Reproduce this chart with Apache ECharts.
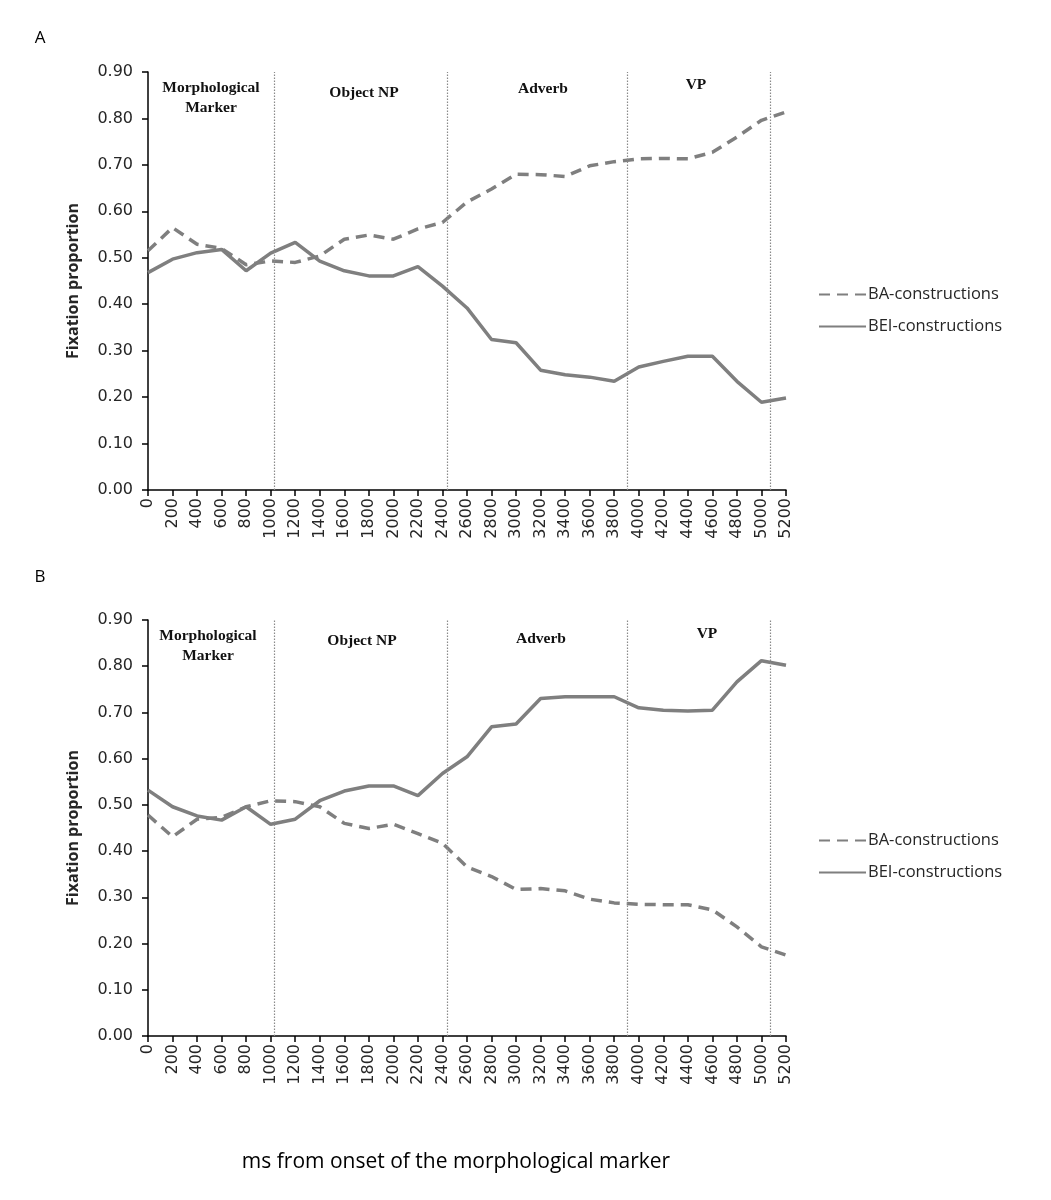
<!DOCTYPE html>
<html>
<head>
<meta charset="utf-8">
<script src="https://cdn.jsdelivr.net/npm/echarts@6/dist/echarts.min.js"></script>
<style>html,body{margin:0;padding:0;background:#fff}#c{width:1051px;height:1200px}</style>
</head>
<body>
<div id="c"></div>
<script>
const times = [0,200,400,600,800,1000,1200,1400,1600,1800,2000,2200,2400,2600,2800,3000,3200,3400,3600,3800,4000,4200,4400,4600,4800,5000,5200];
const baA  = [0.515,0.565,0.529,0.52,0.485,0.493,0.490,0.504,0.540,0.549,0.540,0.562,0.576,0.620,0.648,0.680,0.679,0.675,0.698,0.707,0.713,0.714,0.713,0.727,0.760,0.796,0.814];
const beiA = [0.468,0.497,0.511,0.518,0.472,0.510,0.533,0.493,0.472,0.461,0.461,0.481,0.439,0.392,0.324,0.317,0.258,0.248,0.243,0.234,0.265,0.277,0.288,0.288,0.234,0.189,0.198];
const baB  = [0.478,0.431,0.469,0.473,0.496,0.509,0.507,0.496,0.460,0.449,0.458,0.438,0.417,0.366,0.345,0.317,0.319,0.314,0.296,0.288,0.285,0.284,0.284,0.273,0.236,0.193,0.175];
const beiB = [0.532,0.496,0.476,0.467,0.496,0.458,0.469,0.509,0.530,0.541,0.541,0.520,0.568,0.604,0.669,0.675,0.730,0.734,0.734,0.734,0.710,0.705,0.703,0.705,0.766,0.812,0.802];
const boundaries = [1030, 2440, 3905, 5070];
const regionLabels = ['Morphological\nMarker', 'Object NP', 'Adverb', 'VP'];
const yTicks = [0, 0.1, 0.2, 0.3, 0.4, 0.5, 0.6, 0.7, 0.8, 0.9];
const seriesNames = ['BA-constructions', 'BEI-constructions'];

const GRAY = '#7f7f7f';
const TXT = '#262626';
const pair = (xs, ys) => xs.map((x, i) => [x, ys[i]]);

const grids = [
  {left: 148, width: 638, top: 72, height: 418},
  {left: 148, width: 638, top: 620, height: 416}
];

function xAx(gi) {
  return {
    type: 'value', gridIndex: gi, min: times[0], max: times[times.length - 1], interval: 200,
    axisLine: {show: true, onZero: false, lineStyle: {color: '#000', width: 1.5}},
    axisTick: {show: true, inside: false, length: 6, lineStyle: {color: '#000', width: 1.5}},
    axisLabel: {rotate: 90, fontSize: 16, fontFamily: 'DejaVu Sans', color: TXT, margin: 8, formatter: v => String(v)},
    splitLine: {show: false}
  };
}
function yAx(gi) {
  return {
    type: 'value', gridIndex: gi, min: yTicks[0], max: yTicks[yTicks.length - 1], interval: 0.1,
    name: 'Fixation proportion', nameLocation: 'middle', nameRotate: 90, nameGap: 67,
    nameTextStyle: {fontSize: 16, fontWeight: 'bold', fontFamily: 'Open Sans', color: TXT},
    axisLine: {show: true, lineStyle: {color: '#000', width: 1.5}},
    axisTick: {show: true, length: 6, lineStyle: {color: '#000', width: 1.5}},
    axisLabel: {fontSize: 16, fontFamily: 'DejaVu Sans', color: TXT, margin: 15, formatter: v => v.toFixed(2)},
    splitLine: {show: false}
  };
}
function mk(gi, name, data, dashed, withMarks) {
  const s = {
    type: 'line', name: name, xAxisIndex: gi, yAxisIndex: gi, data: data,
    symbol: 'none', showSymbol: false, smooth: false, animation: false,
    lineStyle: {color: GRAY, width: 3.5, type: dashed ? [11, 7] : 'solid'},
    itemStyle: {color: GRAY}, z: 3
  };
  if (withMarks) {
    s.markLine = {
      silent: true, symbol: 'none', animation: false,
      label: {show: false},
      lineStyle: {color: '#8a8a8a', type: [1.5, 1.5], width: 1.2},
      data: boundaries.map(b => ({xAxis: b}))
    };
  }
  return s;
}

const regionPosA = [[211, 98], [364, 93], [543, 89], [696, 85]];
const regionPosB = [[208, 646], [362, 641], [541, 639], [707, 634]];
const graphics = [];
[regionPosA, regionPosB].forEach(pos => {
  pos.forEach((p, i) => {
    graphics.push({type: 'text', x: p[0], y: p[1], style: {
      text: regionLabels[i], font: 'bold 15.5px "Liberation Serif", "DejaVu Serif", serif',
      fill: '#111', textAlign: 'center', textVerticalAlign: 'middle', lineHeight: 20
    }});
  });
});
graphics.push({type: 'text', x: 40, y: 38, style: {text: 'A', font: '17px "Open Sans"', fill: '#000', textAlign: 'center', textVerticalAlign: 'middle'}});
graphics.push({type: 'text', x: 40, y: 577, style: {text: 'B', font: '17px "Open Sans"', fill: '#000', textAlign: 'center', textVerticalAlign: 'middle'}});
graphics.push({type: 'text', x: 456, y: 1162, style: {text: 'ms from onset of the morphological marker', font: '21px "Open Sans"', fill: '#000', textAlign: 'center', textVerticalAlign: 'middle'}});

function legend(top) {
  return {
    orient: 'vertical', left: 813, top: top, itemGap: 15, itemWidth: 47, itemHeight: 14,
    data: seriesNames, selectedMode: false,
    itemStyle: {opacity: 0, borderWidth: 0},
    textStyle: {fontSize: 16.5, fontFamily: 'Open Sans', color: TXT, padding: [0, 0, 0, -3]}
  };
}

const chart = echarts.init(document.getElementById('c'), null, {renderer: 'canvas'});
chart.setOption({
  animation: false,
  backgroundColor: '#fff',
  grid: grids,
  xAxis: [xAx(0), xAx(1)],
  yAxis: [yAx(0), yAx(1)],
  legend: [legend(281), legend(827)],
  series: [
    mk(0, seriesNames[0], pair(times, baA), true, true),
    mk(0, seriesNames[1], pair(times, beiA), false, false),
    mk(1, seriesNames[0], pair(times, baB), true, true),
    mk(1, seriesNames[1], pair(times, beiB), false, false)
  ],
  graphic: graphics
});
</script>
</body>
</html>
